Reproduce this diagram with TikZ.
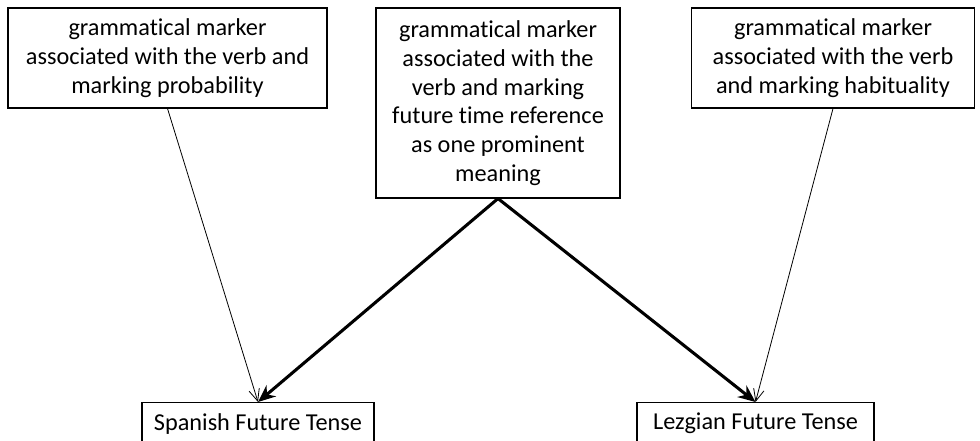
\documentclass[tikz,border=0pt]{standalone}
\usepackage{fontspec}
\setmainfont{Carlito}[Ligatures=NoCommon]
\usetikzlibrary{positioning,arrows.meta}

\tikzset{
    markerbox/.style={draw, line width=0.8pt, align=center, inner sep=0pt, font=\fontsize{18.2}{21.5}\selectfont},
    tensebox/.style={draw, line width=0.8pt, anchor=north, inner xsep=0pt, inner ysep=8pt, text depth=30pt, font=\fontsize{18.2}{21.5}\selectfont},
    thinarrow/.style={-{Straight Barb[length=9pt,width=8pt]}, line width=0.6pt},
    thickarrow/.style={-{Stealth[length=13pt,width=11pt]}, line width=2.3pt}
}

\begin{document}
\begin{tikzpicture}[x=0.75pt, y=-0.75pt]
    \useasboundingbox (0,0) rectangle (980,441);

    % top row: the three markers
    \node[markerbox, minimum width=319*0.75pt, minimum height=100*0.75pt] (probab) at (167.5,58)
        {grammatical marker\\associated with the verb and\\marking probability};
    \node[markerbox, minimum width=244*0.75pt, minimum height=190*0.75pt] (futref) at (498,103)
        {grammatical marker\\associated with the\\verb and marking\\future time reference\\as one prominent\\meaning};
    \node[markerbox, minimum width=283*0.75pt, minimum height=100*0.75pt] (habit) at (833,58)
        {grammatical marker\\associated with the verb\\and marking habituality};

    % bottom row: the two tenses (cut off at the lower edge)
    \node[tensebox, minimum width=232*0.75pt] (spanish) at (258,402) {Spanish Future Tense};
    \node[tensebox, minimum width=237*0.75pt] (lezgian) at (755.5,402) {Lezgian Future Tense};

    \draw[thinarrow] (probab.south) -- (spanish.north);
    \draw[thinarrow] (habit.south) -- (lezgian.north);
    \draw[thickarrow] (futref.south) -- (spanish.north);
    \draw[thickarrow] (futref.south) -- (lezgian.north);
\end{tikzpicture}
\end{document}
